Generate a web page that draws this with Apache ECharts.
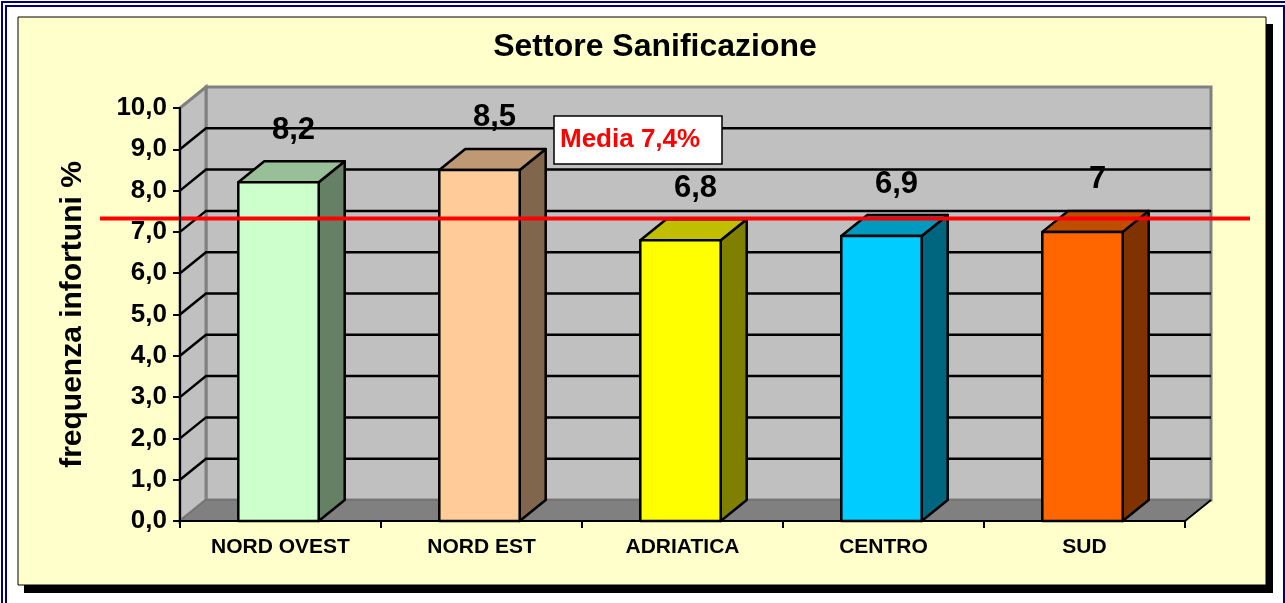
<!DOCTYPE html>
<html>
<head>
<meta charset="utf-8">
<script src="https://cdn.jsdelivr.net/npm/echarts@6/dist/echarts.min.js"></script>
<style>
  html, body { margin: 0; padding: 0; background: #fff; }
  #chart { width: 1285px; height: 603px; }
</style>
</head>
<body>
<div id="chart"></div>
<script>
const categories = ["NORD OVEST", "NORD EST", "ADRIATICA", "CENTRO", "SUD"];
const values = [8.2, 8.5, 6.8, 6.9, 7];
const barColors = ["#CCFFCC", "#FFCC99", "#FFFF00", "#00CCFF", "#FF6600"];
const mediaValue = 7.4;
const yMin = 0;
const yMax = 10;
const yStep = 1;

const FONT = "Liberation Sans, Arial, sans-serif";
const DX = 26;
const DY = -21;

const chart = echarts.init(document.getElementById("chart"));

function comma(v, digits) {
  const s = digits === undefined ? String(v) : Number(v).toFixed(digits);
  return s.replace(".", ",");
}

function shade(hex, k) {
  const n = parseInt(hex.slice(1), 16);
  const r = Math.round(((n >> 16) & 255) * k);
  const g = Math.round(((n >> 8) & 255) * k);
  const b = Math.round((n & 255) * k);
  return `rgb(${r},${g},${b})`;
}

function renderWalls(params, api) {
  const cs = params.coordSys;
  const x0 = cs.x;
  const x1 = cs.x + cs.width;
  const yb = api.coord([0, yMin])[1];
  const yt = api.coord([0, yMax])[1];
  const kids = [];
  kids.push({
    type: "polygon",
    shape: { points: [[x0 + DX, yt + DY], [x1 + DX, yt + DY], [x1 + DX, yb + DY], [x0 + DX, yb + DY]] },
    style: { fill: "#C0C0C0", stroke: "#808080", lineWidth: 3 },
  });
  kids.push({
    type: "polygon",
    shape: { points: [[x0, yt], [x0 + DX, yt + DY], [x0 + DX, yb + DY], [x0, yb]] },
    style: { fill: "#C0C0C0", stroke: "#808080", lineWidth: 3 },
  });
  kids.push({
    type: "polygon",
    shape: { points: [[x0, yb], [x0 + DX, yb + DY], [x1 + DX, yb + DY], [x1, yb]] },
    style: { fill: "#808080", stroke: "#6a6a6a", lineWidth: 1 },
  });
  for (let v = yMin + yStep; v < yMax; v += yStep) {
    const y = api.coord([0, v])[1];
    kids.push({
      type: "polyline",
      shape: { points: [[x0, y], [x0 + DX, y + DY], [x1 + DX, y + DY]] },
      style: { stroke: "#000", lineWidth: 2.5, fill: null },
    });
  }
  // right depth edge of the floor
  kids.push({
    type: "line",
    shape: { x1: x1, y1: yb, x2: x1 + DX, y2: yb + DY },
    style: { stroke: "#000", lineWidth: 2 },
  });
  return { type: "group", children: kids };
}

function renderBar(params, api) {
  const i = api.value(0);
  const v = api.value(1);
  const top = api.coord([i, v]);
  const base = api.coord([i, 0]);
  const bw = api.size([1, 0])[0] * 0.4;
  const xl = top[0] - bw / 2 - 2;
  const xr = top[0] + bw / 2 - 2;
  const yt = top[1];
  const yb = base[1];
  const col = barColors[params.dataIndex];
  const line = { stroke: "#000", lineWidth: 2.5, lineJoin: "round" };
  return {
    type: "group",
    children: [
      {
        type: "polygon",
        shape: { points: [[xr, yt], [xr + DX, yt + DY], [xr + DX, yb + DY], [xr, yb]] },
        style: Object.assign({ fill: shade(col, 0.5) }, line),
      },
      {
        type: "polygon",
        shape: { points: [[xl, yt], [xl + DX, yt + DY], [xr + DX, yt + DY], [xr, yt]] },
        style: Object.assign({ fill: shade(col, 0.75) }, line),
      },
      {
        type: "rect",
        shape: { x: xl, y: yt, width: xr - xl, height: yb - yt },
        style: Object.assign({ fill: col }, line),
      },
      {
        type: "text",
        x: top[0] + DX / 2,
        y: yt + DY - 31,
        style: {
          text: comma(v),
          font: `bold 31px ${FONT}`,
          fill: "#000",
          align: "center",
          verticalAlign: "middle",
        },
      },
    ],
  };
}

function renderMedia(params, api) {
  const cs = params.coordSys;
  const y = api.coord([0, api.value(0)])[1] + 3;
  return {
    type: "line",
    shape: { x1: cs.x - 80, y1: y, x2: cs.x + cs.width + 65, y2: y },
    style: { stroke: "#FF0000", lineWidth: 4 },
  };
}

chart.setOption({
  animation: false,
  backgroundColor: "#fff",
  textStyle: { fontFamily: FONT },
  title: {
    text: "Settore Sanificazione",
    left: 650,
    textAlign: "center",
    top: 26,
    textStyle: { fontFamily: FONT, fontWeight: "bold", fontSize: 32, color: "#000" },
  },
  graphic: [
    { type: "rect", z: -10, shape: { x: 2, y: 2, width: 1290, height: 640 }, style: { fill: null, stroke: "#000080", lineWidth: 2 } },
    { type: "rect", z: -10, shape: { x: 6, y: 6, width: 1278, height: 640 }, style: { fill: null, stroke: "#000080", lineWidth: 2 } },
    { type: "rect", z: -10, shape: { x: 24, y: 24, width: 1249, height: 569 }, style: { fill: "#000" } },
    { type: "rect", z: -9, shape: { x: 18, y: 17, width: 1248, height: 568 }, style: { fill: "#FFFFCC", stroke: "#000", lineWidth: 1 } },
    {
      type: "rect",
      z: 100,
      shape: { x: 554, y: 116, width: 168, height: 48 },
      style: { fill: "#fff", stroke: "#000", lineWidth: 1.5 },
    },
    {
      type: "text",
      z: 101,
      x: 560,
      y: 140,
      style: {
        text: `Media ${comma(mediaValue)}%`,
        font: `bold 26px ${FONT}`,
        fill: "#FF0000",
        verticalAlign: "middle",
      },
    },
  ],
  grid: { left: 180, top: 108, width: 1005, height: 413, containLabel: false },
  xAxis: {
    type: "category",
    data: categories,
    boundaryGap: true,
    axisLine: { show: true, lineStyle: { color: "#000", width: 2 } },
    axisTick: { show: true, length: 7, inside: false, lineStyle: { color: "#000", width: 2 } },
    axisLabel: { color: "#000", fontFamily: FONT, fontWeight: "bold", fontSize: 21, margin: 16 },
    splitLine: { show: false },
    z: 10,
  },
  yAxis: {
    type: "value",
    min: yMin,
    max: yMax,
    interval: yStep,
    name: "frequenza infortuni %",
    nameLocation: "middle",
    nameGap: 92,
    nameRotate: 90,
    nameTextStyle: { color: "#000", fontFamily: FONT, fontWeight: "bold", fontSize: 30 },
    axisLine: { show: true, lineStyle: { color: "#000", width: 2 } },
    axisTick: { show: true, length: 7, lineStyle: { color: "#000", width: 2 } },
    axisLabel: {
      color: "#000",
      fontFamily: FONT,
      fontWeight: "bold",
      fontSize: 26,
      margin: 13,
      formatter: (v) => comma(v, 1),
    },
    splitLine: { show: false },
    z: 10,
  },
  series: [
    { type: "custom", z: 1, renderItem: renderWalls, data: [0], silent: true },
    {
      type: "custom",
      z: 3,
      renderItem: renderBar,
      data: values.map((v, i) => [i, v]),
      encode: { x: 0, y: 1 },
      silent: true,
    },
    { type: "custom", z: 5, renderItem: renderMedia, data: [[mediaValue]], silent: true },
  ],
});
</script>
</body>
</html>
